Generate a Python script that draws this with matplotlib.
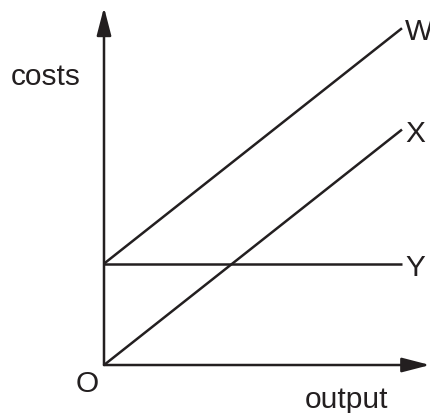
import matplotlib.pyplot as plt

# cost curves (arbitrary units)
output = [0, 10]
fixed_cost = [3.4, 3.4]          # Y
variable_cost = [0, 7.9]         # X
total_cost = [3.4, 11.3]         # W
curve_labels = ['W', 'X', 'Y']

ink = '#231f20'
plt.rcParams['font.family'] = ['Liberation Sans', 'DejaVu Sans']

fig = plt.figure(figsize=(4.30, 4.14), dpi=100)
ax = fig.add_axes([0, 0, 1, 1])
ax.set_xlim(-3.49, 10.94)
ax.set_ylim(-1.61, 12.28)
ax.axis('off')

# axes with arrows
arrow = dict(arrowstyle='-|>,head_length=0.85,head_width=0.22', color=ink,
             lw=1.8, mutation_scale=20, shrinkA=0, shrinkB=0)
ax.annotate('', xy=(10.94, 0), xytext=(0, 0), arrowprops=arrow,
            annotation_clip=False)
ax.annotate('', xy=(0, 12.0), xytext=(0, 0), arrowprops=arrow,
            annotation_clip=False)

ax.plot(output, total_cost, color=ink, lw=1.8, solid_capstyle='butt')
ax.plot(output, variable_cost, color=ink, lw=1.8, solid_capstyle='butt')
ax.plot(output, fixed_cost, color=ink, lw=1.8, solid_capstyle='butt')

for lab, y in zip(curve_labels, [total_cost[-1], variable_cost[-1], fixed_cost[-1]]):
    ax.text(output[-1] + 0.1, y - 0.1, lab, fontsize=21.5, color=ink,
            ha='left', va='center')

ax.text(-1.95, 9.7, 'costs', fontsize=21.5, color=ink, ha='center', va='center')
ax.text(-0.57, -0.6, 'O', fontsize=21.5, color=ink, ha='center', va='center')
ax.text(8.15, -1.15, 'output', fontsize=21.5, color=ink, ha='center', va='center')

fig.savefig('out.png', dpi=100)
